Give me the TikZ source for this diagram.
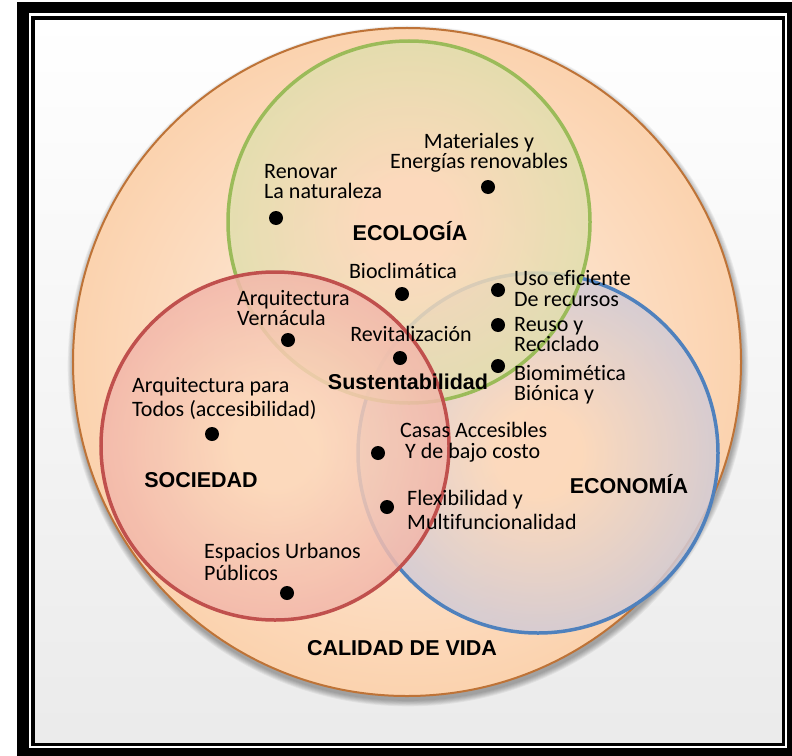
\documentclass[tikz,border=0pt]{standalone}
\usepackage{fontspec}
\setmainfont{Carlito}[Ligatures=NoCommon]
\newfontfamily\headfont{Liberation Sans}
\definecolor{calin}{RGB}{253,234,218}
\definecolor{calout}{RGB}{250,192,140}
\definecolor{calline}{RGB}{190,115,55}
\definecolor{ecofill}{RGB}{203,228,164}
\definecolor{ecoline}{RGB}{155,187,89}
\definecolor{socfill}{RGB}{234,156,158}
\definecolor{socline}{RGB}{192,80,77}
\definecolor{econfill}{RGB}{174,192,236}
\definecolor{econline}{RGB}{79,129,189}
\definecolor{peach}{RGB}{252,216,186}
\makeatletter
\pgfdeclareradialshading[tikz@radial@inner,tikz@radial@outer]{glow}{\pgfpoint{0bp}{0bp}}{color(0bp)=(tikz@radial@inner); color(6bp)=(tikz@radial@inner); color(40bp)=(tikz@radial@outer); color(50bp)=(tikz@radial@outer)}
\makeatother
\tikzset{
  lbl/.style={font=\fontsize{22bp}{21bp}\selectfont, align=left, inner sep=0pt},
  head/.style={font=\headfont\bfseries\fontsize{21.5bp}{24bp}\selectfont, inner sep=0pt}
}

\begin{document}
\begin{tikzpicture}[x=1bp,y=-1bp]
	%%%%% START %%%%%
	\def\xcal{407}
	\def\ycal{362}
	\def\rcal{334bp}
	\def\xeco{409}
	\def\yeco{222}
	\def\reco{181bp}
	\def\xsoc{275}
	\def\ysoc{446}
	\def\rsoc{174bp}
	\def\xecon{538}
	\def\yecon{453}
	\def\recon{180bp}
	\def\raddot{7bp}

	\useasboundingbox (0,0) rectangle (792,756);
	\fill[white] (0,0) rectangle (792,756);
	\shade[top color=white, bottom color=black!8] (33,18) rectangle (783.5,744.5);
	\draw[line width=11.5bp] (23,7.5) rectangle (792.75,753.75);
	\draw[line width=3.5bp] (33,18) rectangle (783.5,744.5);

	% calidad de vida
	\foreach \i in {1,...,7}
		\fill[black, opacity=0.05] (\xcal+1,\ycal+4) circle (\rcal+\i*0.9bp);
	\shade[draw=calline, line width=2bp, inner color=calin, outer color=calout, shading=glow] (\xcal,\ycal) circle (\rcal);

	% economia, ecologia, sociedad
	\shade[draw=econline, line width=3.5bp, fill opacity=0.85, inner color=peach, outer color=econfill, shading=glow] (\xecon,\yecon) circle (\recon);
	\shade[draw=ecoline, line width=3.5bp, fill opacity=0.85, inner color=peach, outer color=ecofill, shading=glow] (\xeco,\yeco) circle (\reco);
	\shade[draw=socline, line width=3.5bp, fill opacity=0.85, inner color=peach, outer color=socfill, shading=glow] (\xsoc,\ysoc) circle (\rsoc);

	% dots
	\fill (488,187) circle (\raddot);
	\fill (276,218) circle (\raddot);
	\fill (402,294) circle (\raddot);
	\fill (288,340) circle (\raddot);
	\fill (400,358) circle (\raddot);
	\fill (498,290) circle (\raddot);
	\fill (498,325) circle (\raddot);
	\fill (498,366) circle (\raddot);
	\fill (212,434) circle (\raddot);
	\fill (378,453) circle (\raddot);
	\fill (387,507) circle (\raddot);
	\fill (287,593) circle (\raddot);

	% labels
	\node[lbl, align=center] (materiales) at (479,153) {Materiales y\\[-1bp]Energías renovables};
	\node[lbl, anchor=west] (renovar) at (264,182) {Renovar\\[-1bp]La naturaleza};
	\node[head] (ecologia) at (410,231) {ECOLOGÍA};
	\node[lbl] (bioclim) at (403,271) {Bioclimática};
	\node[lbl, anchor=west] (vernacula) at (237,308) {Arquitectura\\[-1bp]Vernácula};
	\node[lbl] (revital) at (411,334) {Revitalización};
	\node[head] (sustent) at (408,382) {Sustentabilidad};
	\node[lbl, anchor=west] (uso) at (514,289) {Uso eficiente\\De recursos};
	\node[lbl, anchor=west] (reuso) at (514,335) {Reuso y\\[-1bp]Reciclado};
	\node[lbl, anchor=west] (biomim) at (514,385) {Biomimética\\[-1bp]Biónica y};
	\node[lbl, anchor=west] (todos) at (132,398) {Arquitectura para\\[3bp]Todos (accesibilidad)};
	\node[head] (sociedad) at (201,480) {SOCIEDAD};
	\node[lbl, anchor=west] (casas) at (400,442) {Casas Accesibles\\\hspace*{5bp}Y de bajo costo};
	\node[head] (economia) at (629,484) {ECONOMÍA};
	\node[lbl, anchor=west] (flexib) at (407,510) {Flexibilidad y\\[3bp]Multifuncionalidad};
	\node[lbl, anchor=west] (espacios) at (204,562) {Espacios Urbanos\\[1bp]Públicos};
	\node[head] (calidad) at (402,648) {CALIDAD DE VIDA};
	%%%%% END %%%%%
\end{tikzpicture}
\end{document}
